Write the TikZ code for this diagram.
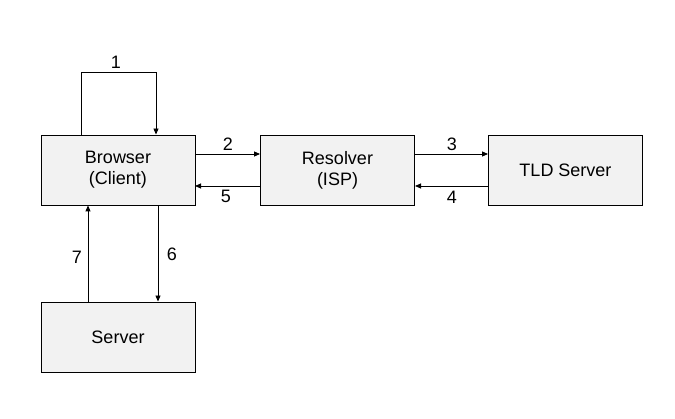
\documentclass[tikz,border=0pt]{standalone}
\usepackage{fontspec}
\setmainfont{Liberation Sans}
\usetikzlibrary{arrows.meta}
\begin{document}
\begin{tikzpicture}[x=1pt,y=-1pt,
  box/.style={draw=black, fill=gray!10, line width=0.9pt, minimum width=154pt, minimum height=70pt, inner sep=0pt, font=\fontsize{18}{21}\selectfont, align=center},
  conn/.style={draw=black, line width=0.9pt, -{Triangle[length=6pt,width=5pt]}},
  lbl/.style={font=\fontsize{18}{21}\selectfont, inner sep=0pt}]
\useasboundingbox (0,0) rectangle (675,419);
\fill[white] (0,0) rectangle (675,419);
\node[box] (browser) at (118,170) {Browser\\(Client)};
\node[box] (resolver) at (337.5,170) {Resolver\\(ISP)};
\node[box] (tld) at (565.5,170) {TLD Server};
\node[box] (server) at (118,337) {Server};
\coordinate (l1) at (81,72);
\coordinate (l2) at (156,72);
\draw[conn] (browser.north -| l1) -- (l1) -- (l2) -- (browser.north -| l2);
\draw[conn] (195,154) -- (resolver.west |- 0,154);
\draw[conn] (resolver.west |- 0,186) -- (195,186);
\draw[conn] (415,154) -- (tld.west |- 0,154);
\draw[conn] (tld.west |- 0,186) -- (415,186);
\draw[conn] (browser.south -| 158,0) -- (server.north -| 158,0);
\draw[conn] (server.north -| 88,0) -- (browser.south -| 88,0);
\node[lbl] (n1) at (116,62) {1};
\node[lbl] (n2) at (228,144) {2};
\node[lbl] (n5) at (226,196) {5};
\node[lbl] (n3) at (452,144) {3};
\node[lbl] (n4) at (452,197) {4};
\node[lbl] (n6) at (172,254) {6};
\node[lbl] (n7) at (77,257) {7};
\end{tikzpicture}
\end{document}
